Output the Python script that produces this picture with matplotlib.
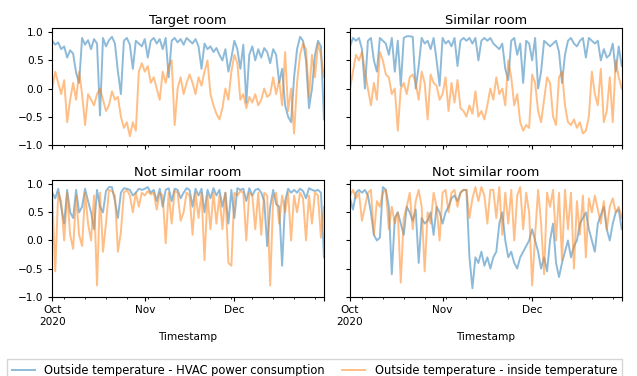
import matplotlib
matplotlib.use("Agg")
import matplotlib.pyplot as plt
import pandas as pd

# daily values, Oct 1 .. Dec 31 2020
dates = pd.date_range("2020-10-01", periods=92, freq="D")

titles = ["Target room", "Similar room", "Not similar room", "Not similar room"]
series_names = ["Outside temperature - HVAC power consumption",
                "Outside temperature - inside temperature"]

# Target room
tl_hvac = [0.85, 0.78, 0.82, 0.7, 0.75, 0.55, 0.68, 0.62, 0.28, 0.1,
           0.9, 0.78, 0.86, 0.7, 0.88, 0.8, -0.48, 0.9, 0.75, 0.86,
           0.92, 0.8, 0.3, -0.1, 0.85, 0.9, 0.78, 0.35, 0.85, 0.8,
           0.75, 0.88, 0.55, 0.85, 0.9, 0.8, 0.88, 0.7, 0.9, 0.2,
           0.85, 0.9, 0.82, 0.88, 0.78, 0.9, 0.85, 0.8, 0.88, 0.75,
           0.35, 0.8, 0.7, 0.75, 0.65, 0.72, 0.6, 0.5, 0.7, 0.3,
           0.55, 0.85, 0.7, 0.35, 0.78, -0.25, 0.6, 0.75, 0.5, 0.7,
           0.55, 0.72, 0.65, 0.45, 0.7, 0.6, 0.1, 0.35, -0.3, -0.5,
           -0.6, 0.2, 0.7, 0.92, 0.85, 0.5, -0.35, 0.0, 0.6, 0.85,
           0.75, -0.55]
tl_inside = [0.0, 0.3, 0.1, -0.1, 0.15, -0.6, -0.2, 0.1, -0.2, 0.3,
             -0.1, -0.65, -0.1, -0.2, -0.3, -0.1, 0.0, -0.2, -0.4, -0.3,
             -0.05, -0.2, -0.15, -0.5, -0.7, -0.6, -0.85, -0.6, -0.75, 0.3,
             0.45, 0.3, 0.4, 0.1, 0.2, 0.0, -0.2, 0.3, 0.1, 0.4,
             0.5, -0.65, 0.0, 0.2, -0.1, 0.1, 0.25, 0.1, -0.1, 0.2,
             0.05, 0.3, 0.5, -0.1, -0.3, -0.45, -0.55, -0.35, 0.0, -0.2,
             0.3, 0.6, 0.45, -0.2, -0.1, -0.35, -0.15, -0.25, -0.1, -0.3,
             -0.2, 0.0, -0.15, -0.1, 0.2, -0.1, 0.15, -0.3, 0.65, -0.4,
             0.0, -0.8, 0.1, 0.6, 0.8, 0.7, -0.15, 0.6, 0.2, 0.8,
             0.6, 0.2]

# Similar room
tr_hvac = [0.75, 0.9, 0.85, 0.9, 0.7, 0.0, 0.85, 0.9, 0.5, 0.3,
           0.9, 0.85, 0.8, 0.6, 0.9, 0.3, 0.85, 0.05, 0.9, 0.93,
           0.93, 0.92, 0.0, 0.4, 0.9, 0.8, 0.85, 0.7, 0.9, 0.5,
           0.05, 0.9, 0.8, 0.85, 0.75, 0.9, 0.4, 0.85, 0.9, 0.85,
           0.9, 0.8, 0.9, 0.5, 0.85, 0.9, 0.85, 0.9, 0.8, 0.75,
           0.7, 0.8, 0.35, 0.15, 0.85, 0.9, 0.6, 0.8, 0.1, 0.85,
           0.8, 0.5, 0.9, 0.0, 0.3, 0.85, 0.8, 0.75, 0.8, 0.85,
           0.65, 0.1, 0.6, 0.85, 0.9, 0.8, 0.75, 0.85, 0.9, 0.55,
           0.9, 0.85, 0.8, 0.85, 0.5, 0.7, 0.55, 0.6, 0.8, 0.3,
           0.75, 0.4]
tr_inside = [0.0, 0.3, 0.6, 0.5, 0.65, 0.3, 0.0, -0.3, 0.1, -0.2,
             0.65, 0.5, 0.25, 0.2, -0.1, 0.0, -0.75, 0.0, 0.1, -0.1,
             0.2, 0.25, 0.1, -0.2, 0.3, 0.1, -0.55, 0.25, 0.1, 0.05,
             -0.2, -0.1, 0.2, -0.4, 0.1, -0.25, 0.15, -0.35, -0.4, -0.5,
             -0.3, -0.45, -0.05, -0.5, -0.4, -0.55, -0.3, 0.0, -0.2, 0.2,
             -0.1, 0.0, -0.3, 0.5, 0.2, -0.3, -0.1, -0.6, -0.75, -0.65,
             -0.7, 0.25, 0.1, -0.4, -0.6, -0.2, 0.2, 0.1, -0.5, -0.65,
             0.2, 0.3, -0.3, -0.6, -0.65, -0.55, -0.7, -0.6, -0.8, -0.75,
             -0.5, 0.3, -0.1, -0.3, 0.35, -0.6, -0.4, 0.2, -0.6, 0.5,
             0.2, 0.0]

# Not similar room (left)
bl_hvac = [0.85, 0.75, 0.92, 0.6, 0.3, 0.9, 0.5, 0.4, 0.9, 0.5,
           0.6, 0.92, 0.7, 0.5, 0.2, 0.9, 0.6, 0.5, 0.88, 0.95,
           0.95, 0.7, 0.4, 0.85, 0.93, 0.92, 0.9, 0.8, 0.85, 0.92,
           0.9, 0.92, 0.95, 0.85, 0.9, 0.7, 0.92, 0.6, 0.9, 0.93,
           0.7, 0.92, 0.9, 0.75, 0.85, 0.93, 0.9, 0.6, 0.92, 0.8,
           0.92, 0.5, 0.9, 0.75, 0.93, 0.8, 0.9, 0.6, 0.85, 0.3,
           0.9, 0.4, 0.93, 0.9, 0.92, 0.7, 0.93, 0.8, 0.9, 0.92,
           0.85, 0.7, -0.1, 0.6, 0.9, 0.65, 0.6, -0.45, 0.7, 0.92,
           0.85, 0.9, 0.85, 0.92, 0.88, 0.75, 0.93, 0.9, 0.88, 0.9,
           0.85, -0.3]
bl_inside = [0.8, -0.55, 0.85, 0.7, 0.0, 0.85, 0.1, -0.15, 0.8, 0.1,
             -0.1, 0.85, 0.3, 0.0, 0.8, -0.8, 0.85, -0.2, 0.3, 0.9,
             0.88, 0.8, -0.2, 0.15, 0.85, 0.9, 0.8, 0.5, 0.85, 0.6,
             0.85, 0.8, 0.88, 0.82, 0.85, 0.55, 0.85, 0.8, -0.05, 0.85,
             0.3, 0.88, 0.85, 0.35, 0.5, 0.85, 0.8, 0.1, 0.85, 0.4,
             0.85, -0.35, 0.8, 0.2, 0.85, 0.3, 0.8, 0.2, 0.85, -0.4,
             -0.45, 0.85, 0.8, 0.88, 0.85, 0.0, 0.85, 0.8, 0.2, 0.85,
             0.1, 0.85, 0.8, -0.8, 0.75, 0.85, 0.3, 0.8, 0.5, 0.85,
             0.0, 0.8, 0.5, 0.85, 0.75, 0.0, 0.8, 0.3, 0.85, 0.8,
             0.05, 0.6]

# Not similar room (right)
br_hvac = [0.75, 0.55, 0.85, 0.9, 0.85, 0.9, 0.8, 0.5, 0.1, 0.0,
           0.05, 0.95, 0.9, 0.6, -0.6, 0.4, 0.5, 0.3, 0.1, 0.6,
           0.5, 0.35, 0.55, -0.4, 0.4, 0.3, 0.35, 0.5, 0.1, 0.6,
           0.5, 0.3, 0.5, 0.6, 0.75, 0.8, 0.7, 0.85, 0.9, 0.9,
           -0.3, -0.85, -0.3, -0.4, -0.2, -0.45, -0.3, -0.5, -0.3, -0.2,
           0.3, 0.5, 0.0, -0.3, -0.2, -0.4, -0.5, -0.3, -0.2, -0.1,
           0.0, 0.2, 0.0, -0.2, -0.5, -0.3, -0.55, 0.0, 0.3, -0.4,
           -0.65, -0.4, -0.2, 0.0, -0.3, -0.1, 0.0, 0.3, 0.4, 0.5,
           0.2, 0.0, -0.2, 0.3, 0.45, 0.6, 0.2, 0.0, 0.3, 0.5,
           0.55, 0.2]
br_inside = [0.8, 0.9, 0.75, 0.85, 0.35, 0.6, 0.85, 0.9, 0.1, 0.7,
             0.6, 0.85, 0.9, 0.2, 0.6, 0.3, 0.5, -0.75, 0.4, 0.6,
             0.85, 0.2, 0.7, 0.9, 0.6, -0.55, 0.5, 0.3, 0.85, 0.6,
             0.0, 0.85, 0.9, 0.5, 0.85, 0.9, 0.6, 0.85, 0.9, 0.9,
             0.4, 0.75, 0.95, 0.7, 0.95, 0.8, 0.3, 0.9, 0.9, 0.4,
             0.95, 0.1, 0.85, 0.3, 0.9, 0.0, 0.8, 0.95, 0.2, 0.85,
             0.5, -0.8, 0.1, 0.9, 0.3, -0.6, 0.85, 0.6, 0.9, 0.0,
             0.85, -0.35, 0.9, 0.2, 0.85, -0.5, 0.7, 0.1, 0.8, -0.3,
             0.75, 0.5, 0.8, 0.55, 0.3, 0.7, 0.2, 0.6, 0.75, 0.5,
             0.6, 0.4]

panels = [(tl_hvac, tl_inside), (tr_hvac, tr_inside),
          (bl_hvac, bl_inside), (br_hvac, br_inside)]

plt.rcParams["xtick.labelsize"] = 7.6
plt.rcParams["ytick.labelsize"] = 7.6
plt.rcParams["xtick.major.size"] = 2.7
plt.rcParams["ytick.major.size"] = 2.7
plt.rcParams["xtick.minor.size"] = 1.6

fig, axes = plt.subplots(2, 2, figsize=(6.37, 3.76), dpi=100, sharex=True, sharey=True)
fig.subplots_adjust(left=0.082, right=0.976, top=0.926, bottom=0.211,
                    wspace=0.096, hspace=0.30)

for ax, title, (hvac, inside) in zip(axes.flat, titles, panels):
    df = pd.DataFrame({series_names[0]: hvac, series_names[1]: inside},
                      index=pd.Index(dates, name="Timestamp"))
    df.plot(ax=ax, alpha=0.5, lw=1.4, color=["#1f77b4", "#ff7f0e"], legend=False)
    ax.set_title(title, fontsize=9.3, pad=3)
    ax.set_ylim(-1.0, 1.08)
    ax.set_yticks([-1.0, -0.5, 0.0, 0.5, 1.0])

for ax in axes[0]:
    ax.set_xlabel("")
    ax.tick_params(labelbottom=False)
for ax in axes[1]:
    ax.set_xlabel("Timestamp", fontsize=7.6)
for ax in axes[:, 1]:
    ax.tick_params(labelleft=False)

handles, labels = axes[0, 0].get_legend_handles_labels()
fig.legend(handles, labels, loc="upper left", ncol=2, mode="expand",
           bbox_to_anchor=(0.011, 0.0, 0.965, 0.045), fontsize=8.3,
           fancybox=False, edgecolor="#cccccc", borderaxespad=0)

fig.savefig("out.png", dpi=100)
